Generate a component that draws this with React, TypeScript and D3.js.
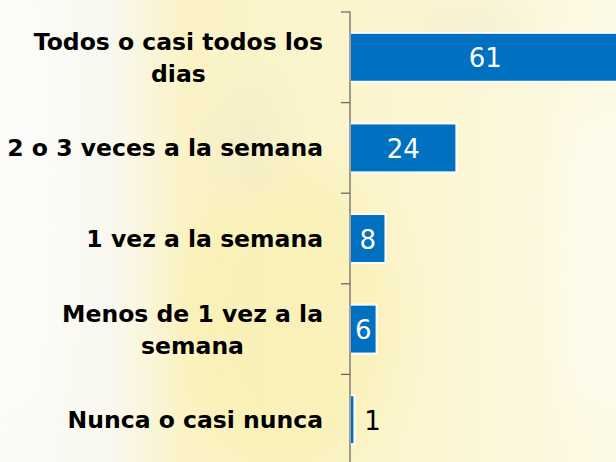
import { useEffect, useRef } from "react";
import * as d3 from "d3";

// categories (top to bottom), label lines and values
const categories = [
  "Todos o casi todos los dias",
  "2 o 3 veces a la semana",
  "1 vez a la semana",
  "Menos de 1 vez a la semana",
  "Nunca o casi nunca",
];
const labelLines = [
  ["Todos o casi todos los", "dias"],
  ["2 o 3 veces a la semana"],
  ["1 vez a la semana"],
  ["Menos de 1 vez a la", "semana"],
  ["Nunca o casi nunca"],
];
const values = [61, 24, 8, 6, 1];

const W = 616;
const H = 462;

export default function App() {
  const ref = useRef<SVGSVGElement>(null);

  useEffect(() => {
    const svg = d3.select(ref.current);
    svg.selectAll("*").remove();

    // soft washed-out picture behind the chart
    const defs = svg.append("defs");
    const bg = defs.append("linearGradient").attr("id", "bg").attr("x1", 0).attr("x2", 1);
    bg.append("stop").attr("offset", "0").attr("stop-color", "#fbfbf8");
    bg.append("stop").attr("offset", "0.18").attr("stop-color", "#f9f8ef");
    bg.append("stop").attr("offset", "0.3").attr("stop-color", "#fbf3c6");
    bg.append("stop").attr("offset", "0.7").attr("stop-color", "#fcf6d2");
    bg.append("stop").attr("offset", "1").attr("stop-color", "#fdfae6");
    defs.append("filter").attr("id", "blur")
      .append("feGaussianBlur").attr("stdDeviation", 20);

    svg.append("rect").attr("width", W).attr("height", H).attr("fill", "url(#bg)");
    const blobs = svg.append("g").attr("filter", "url(#blur)").attr("opacity", 0.35);
    blobs.append("ellipse").attr("cx", 290).attr("cy", 320).attr("rx", 110).attr("ry", 160).attr("fill", "#f8ec9a");
    blobs.append("ellipse").attr("cx", 250).attr("cy", 140).attr("rx", 35).attr("ry", 60).attr("fill", "#ece4c6");
    blobs.append("ellipse").attr("cx", 470).attr("cy", 30).attr("rx", 60).attr("ry", 30).attr("fill", "#ece4cc");
    blobs.append("ellipse").attr("cx", 590).attr("cy", 260).attr("rx", 30).attr("ry", 160).attr("fill", "#ffffff");
    blobs.append("ellipse").attr("cx", 30).attr("cy", 200).attr("rx", 40).attr("ry", 220).attr("fill", "#ffffff");

    const x0 = 350;
    const y = d3.scaleBand<string>().domain(categories).range([12, 465]).paddingInner(0.46).paddingOuter(0.23);
    const x = d3.scaleLinear().domain([0, 60]).range([x0, W]);

    // bars
    svg.append("g")
      .selectAll("rect")
      .data(values)
      .join("rect")
      .attr("x", x0)
      .attr("y", (_, i) => y(categories[i])!)
      .attr("width", (d) => x(d) - x0)
      .attr("height", y.bandwidth())
      .attr("fill", "#0070c0")
      .attr("stroke", "#ffffff")
      .attr("stroke-width", 2);

    // axis with ticks between bands
    const step = y.step();
    const ticks = d3.range(categories.length + 1).map((i) => 12 + i * step);
    const ax = svg.append("g").attr("stroke", "#6b6b6b").attr("stroke-width", 1.3);
    ax.append("line").attr("x1", x0).attr("x2", x0).attr("y1", 11.5).attr("y2", H);
    ax.selectAll("line.t").data(ticks).join("line").attr("class", "t")
      .attr("x1", x0 - 9).attr("x2", x0).attr("y1", (d) => d).attr("y2", (d) => d);

    // value labels
    svg.append("g")
      .selectAll("text")
      .data(values)
      .join("text")
      .attr("x", (d) => (x(d) - x0 < 20 ? x(d) + 18 : (x0 + Math.min(x(d), 621)) / 2))
      .attr("y", (_, i) => y(categories[i])! + y.bandwidth() / 2 + 10)
      .attr("text-anchor", "middle")
      .attr("font-family", "DejaVu Sans, Verdana, sans-serif")
      .attr("font-size", 26)
      .attr("fill", (d) => (x(d) - x0 < 20 ? "#000" : "#fff"))
      .text((d) => d);

    // category labels
    const fs = 23.5;
    const lh = 32;
    const tx = 323;
    const lab = svg.append("g")
      .attr("font-family", "DejaVu Sans, Verdana, sans-serif")
      .attr("font-weight", "bold")
      .attr("font-size", fs)
      .attr("fill", "#000");
    labelLines.forEach((lines, i) => {
      const cy = y(categories[i])! + y.bandwidth() / 2;
      const top = cy - ((lines.length - 1) * lh) / 2 + 8.5;
      const t = lab.append("text").attr("text-anchor", "end");
      lines.forEach((ln, j) => {
        t.append("tspan").attr("x", tx).attr("y", top + j * lh).text(ln);
      });
      if (lines.length > 1) {
        // centre the shorter line under the first one
        const spans = t.selectAll<SVGTSpanElement, unknown>("tspan").nodes();
        const w0 = spans[0].getComputedTextLength();
        spans.forEach((s) => {
          d3.select(s).attr("text-anchor", "middle").attr("x", tx - w0 / 2);
        });
      }
    });
  }, []);

  return (
    <svg
      ref={ref}
      width={W}
      height={H}
      style={{ position: "absolute", left: 0, top: 0, display: "block" }}
    />
  );
}
